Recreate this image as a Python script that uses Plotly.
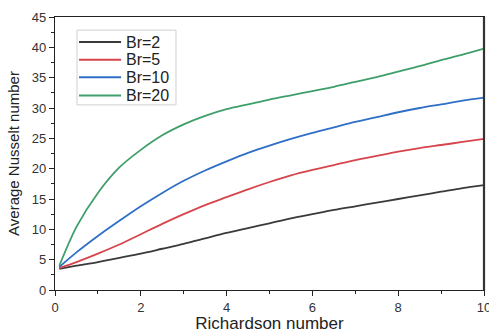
import plotly.graph_objects as go

ri = [0.1, 0.5, 1.0, 1.5, 2.0, 2.5, 3.0, 3.5, 4.0, 4.5, 5.0, 5.5, 6.0, 6.5, 7.0, 7.5, 8.0, 8.5, 9.0, 9.5, 10.0]

nu_br2 = [3.5, 4.0, 4.6, 5.3, 6.0, 6.8, 7.6, 8.5, 9.4, 10.2, 11.0, 11.8, 12.5, 13.2, 13.8, 14.4, 15.0, 15.6, 16.2, 16.8, 17.3]
nu_br5 = [3.6, 4.6, 6.0, 7.5, 9.2, 10.9, 12.5, 14.0, 15.3, 16.6, 17.8, 18.9, 19.8, 20.6, 21.4, 22.1, 22.8, 23.4, 23.9, 24.4, 24.9]
nu_br10 = [3.8, 6.2, 8.9, 11.4, 13.8, 16.0, 18.0, 19.7, 21.2, 22.6, 23.8, 24.9, 25.9, 26.8, 27.7, 28.5, 29.3, 30.0, 30.6, 31.2, 31.7]
nu_br20 = [4.0, 10.4, 16.0, 20.2, 23.1, 25.5, 27.3, 28.7, 29.8, 30.6, 31.4, 32.1, 32.8, 33.5, 34.3, 35.1, 36.0, 36.9, 37.9, 38.8, 39.8]

labels = ["Br=2", "Br=5", "Br=10", "Br=20"]
values = [nu_br2, nu_br5, nu_br10, nu_br20]
colors = ["#3a3a3a", "#d6454c", "#2f6fc6", "#3f9f6a"]

x_ticks = [0, 2, 4, 6, 8, 10]
y_ticks = [0, 5, 10, 15, 20, 25, 30, 35, 40, 45]

FONT = "Liberation Sans, Arial"

fig = go.Figure()
for name, vals, col in zip(labels, values, colors):
    fig.add_trace(go.Scatter(x=ri, y=vals, name=name, mode="lines", showlegend=False,
                             line=dict(color=col, width=1.8, shape="spline", smoothing=0.8)))

axis_common = dict(
    showline=True, linecolor="#222222", linewidth=1.2, mirror=True,
    ticks="outside", ticklen=5, tickwidth=1, tickcolor="#222222",
    showgrid=False, zeroline=False, automargin=False,
    ticklabeloverflow="allow",
    tickfont=dict(family=FONT, size=13, color="#333333"),
)

fig.update_xaxes(
    range=[0, 10], tickvals=x_ticks,
    minor=dict(ticks="outside", ticklen=3, dtick=1, tickcolor="#222222"),
    title=dict(text="Richardson number", standoff=8,
               font=dict(family=FONT, size=17, color="#222222")),
    **axis_common,
)
fig.update_yaxes(
    range=[0, 45], tickvals=y_ticks,
    minor=dict(ticks="outside", ticklen=3, dtick=2.5, tickcolor="#222222"),
    title=dict(text="Average Nusselt number", standoff=8,
               font=dict(family=FONT, size=15, color="#222222")),
    **axis_common,
)

# custom legend (paper coordinates)
shapes = [
    dict(type="rect", xref="paper", yref="paper", x0=0.0513, x1=0.282, y0=0.678, y1=0.952,
         line=dict(color="#d0d0d0", width=1), fillcolor="white", layer="above"),
    dict(type="line", xref="paper", yref="paper", x0=1, x1=1, y0=0, y1=1,
         line=dict(color="#333333", width=2.2)),
]
annotations = []
row_y = [0.908, 0.843, 0.779, 0.712]
for name, col, yy in zip(labels, colors, row_y):
    shapes.append(dict(type="line", xref="paper", yref="paper", x0=0.056, x1=0.154,
                       y0=yy, y1=yy, line=dict(color=col, width=2), layer="above"))
    annotations.append(dict(xref="paper", yref="paper", x=0.161, y=yy, text=name,
                            showarrow=False, xanchor="left", yanchor="middle",
                            font=dict(family=FONT, size=16, color="#222222")))

fig.update_layout(
    width=489, height=333,
    margin=dict(l=55, r=5, t=17, b=43),
    plot_bgcolor="white", paper_bgcolor="white",
    showlegend=False,
    shapes=shapes, annotations=annotations,
)

fig.write_html("out.html")
